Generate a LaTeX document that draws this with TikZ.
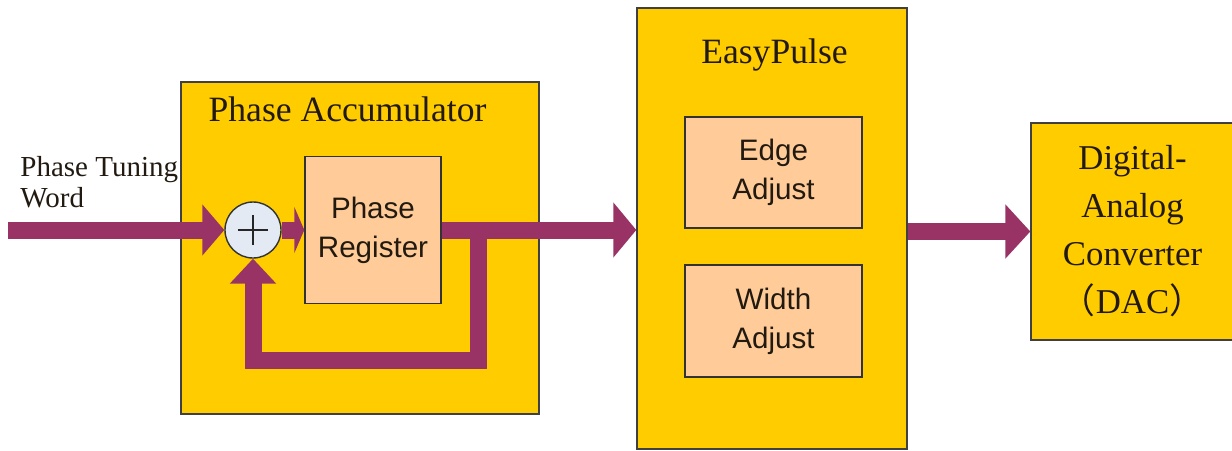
\documentclass[tikz,border=0pt]{standalone}
\usepackage{fontspec}
\setmainfont{Liberation Serif}
\setsansfont{Liberation Sans}
\newfontfamily\cjk{Noto Sans CJK SC}
\usetikzlibrary{arrows.meta}
\definecolor{boxyellow}{HTML}{FFCC00}
\definecolor{boxpeach}{HTML}{FFCC99}
\definecolor{busred}{HTML}{993366}
\definecolor{addfill}{HTML}{E4EAF4}
\definecolor{inktext}{HTML}{221A10}
\begin{document}
\begin{tikzpicture}[x=0.5pt,y=-0.5pt,
  outerbox/.style={draw=black!75, line width=0.7pt, fill=boxyellow, inner sep=0pt},
  innerbox/.style={draw=black!80, line width=0.7pt, fill=boxpeach, inner sep=0pt,
    align=center, font=\sffamily\fontsize{14.8}{19.5}\selectfont, text=inktext},
  titletext/.style={font=\fontsize{17.8}{22}\selectfont, anchor=base, inner sep=0pt, text=inktext},
  adder/.style={circle, draw=black!80, line width=0.7pt, fill=addfill, minimum size=28pt, inner sep=0pt,
    path picture={
      \draw[line width=0.7pt, black!85] ([xshift=-7.5pt]path picture bounding box.center) -- ([xshift=7.5pt]path picture bounding box.center);
      \draw[line width=0.7pt, black!85] ([yshift=-7.5pt]path picture bounding box.center) -- ([yshift=7.5pt]path picture bounding box.center);
    }},
  bus/.style={draw=busred, line width=8.5pt},
]
\useasboundingbox (0,0) rectangle (1232,450);

% outer blocks
\node[outerbox, minimum width=179pt, minimum height=166pt] (pa) at (360,248) {};
\node[titletext] (patitle) at (347.5,121.7) {Phase Accumulator};
\node[outerbox, minimum width=135pt, minimum height=220.5pt] (ep) at (772,228.5) {};
\node[titletext] (eptitle) at (774.5,63) {EasyPulse};
\node[outerbox, minimum width=101.5pt, minimum height=108.5pt, align=center,
  font=\fontsize{17.4}{24}\selectfont, text=inktext] (dac) at (1132.5,231.5)
  {Digital-\\Analog\\Converter\\{\cjk （}DAC{\cjk ）}};

% inner blocks
\node[innerbox, minimum width=68pt, minimum height=73.5pt] (reg) at (373,230) {Phase\\Register};
\node[innerbox, minimum width=88.5pt, minimum height=55.5pt] (edge) at (773.5,172.5) {Edge\\Adjust};
\node[innerbox, minimum width=88.5pt, minimum height=56pt] (width) at (773.5,321) {Width\\Adjust};
\node[adder] (add) at (253,230) {};

% input label
\node[anchor=west, align=left, inner sep=0pt, font=\fontsize{14.5}{15.5}\selectfont, text=inktext]
  (ptw) at (20,182) {Phase Tuning\\Word};

% connectors
\coordinate (in) at (8,230);
\coordinate (fb1) at (478,230);
\coordinate (fb2) at (478,360);
\coordinate (fb3) at (253,360);
\draw[bus, -{Triangle[length=11pt,width=25pt]}] (in) -- (add);
\draw[bus, -{Triangle[length=5pt,width=23pt]}] (add) -- (reg);
\draw[bus, line join=miter, -{Triangle[length=12.5pt,width=22.5pt]}] (fb1) -- (fb2) -- (fb3) -- (add);
\draw[bus, -{Triangle[length=11.5pt,width=27pt]}] (reg.east) -- (reg.east -| ep.west);
\draw[bus, -{Triangle[length=12.5pt,width=26.5pt]}] (ep.east |- dac.west) -- (dac.west);
\end{tikzpicture}
\end{document}
